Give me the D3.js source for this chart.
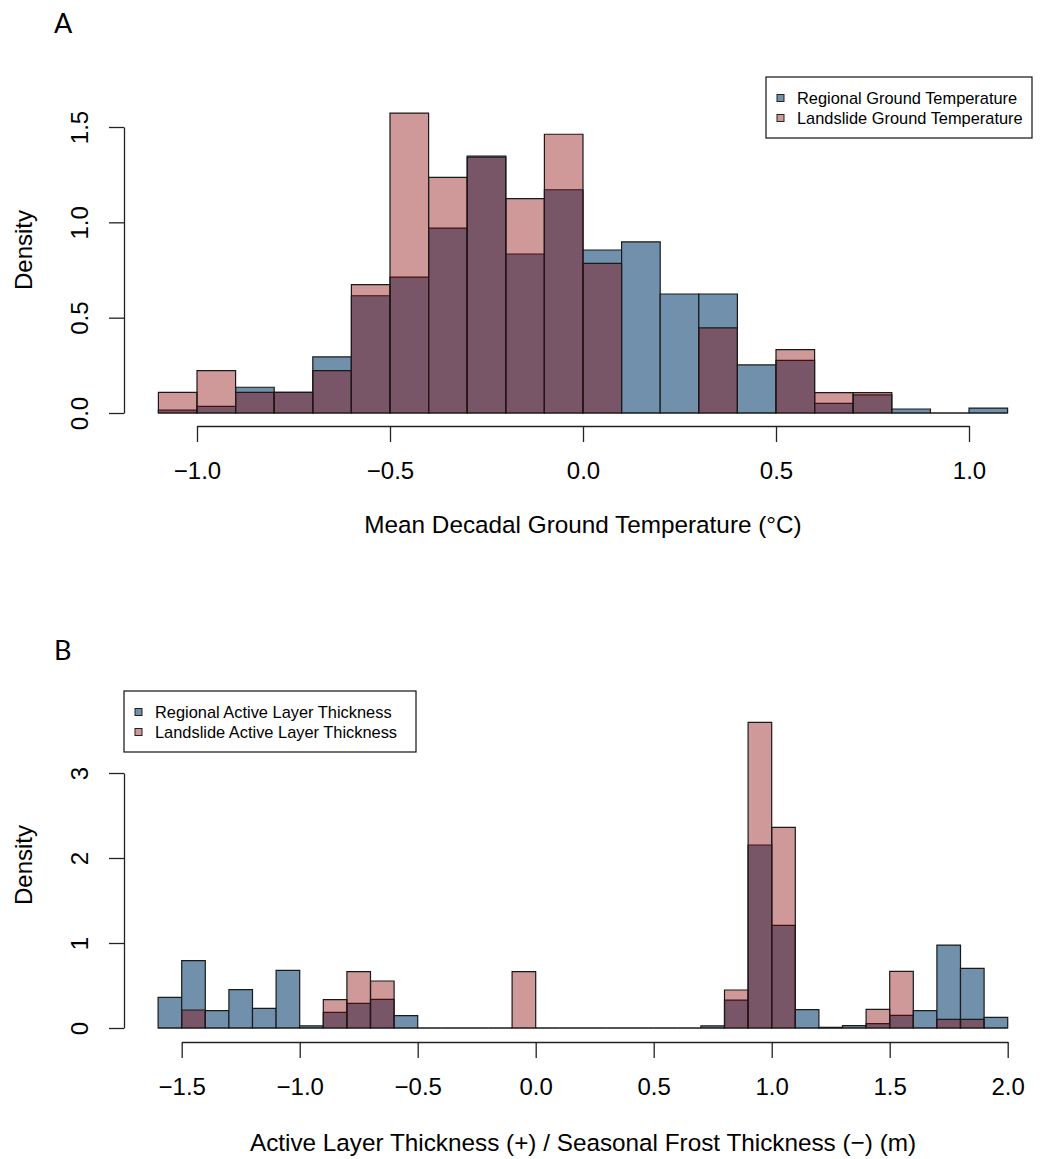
<!DOCTYPE html>
<html>
<head>
<meta charset="utf-8">
<script src="https://cdn.jsdelivr.net/npm/d3@7"></script>
<style>
  html, body { margin: 0; padding: 0; background: #fff; }
  svg { display: block; font-family: "Liberation Sans", Arial, sans-serif; }
</style>
</head>
<body>
<svg id="chart" width="1040" height="1159"></svg>
<script>
// ---------- Panel A data (Mean decadal ground temperature, bins of 0.1 °C) ----------
const breaksA = [-1.1,-1.0,-0.9,-0.8,-0.7,-0.6,-0.5,-0.4,-0.3,-0.2,-0.1,0.0,0.1,0.2,0.3,0.4,0.5,0.6,0.7,0.8,0.9,1.0,1.1];
const regionalA  = [0.015,0.035,0.135,0.108,0.294,0.615,0.713,0.970,1.348,0.834,1.171,0.855,0.898,0.624,0.624,0.252,0.276,0.051,0.095,0.021,0.000,0.026];
const landslideA = [0.108,0.222,0.108,0.108,0.222,0.673,1.573,1.236,1.342,1.124,1.462,0.785,0.000,0.000,0.446,0.000,0.332,0.107,0.107,0.000,0.000,0.000];
const xTicksA = [-1.0,-0.5,0.0,0.5,1.0];
const yTicksA = [0.0,0.5,1.0,1.5];

// ---------- Panel B data (Active layer / seasonal frost thickness, bins of 0.1 m) ----------
const breaksB = [-1.6,-1.5,-1.4,-1.3,-1.2,-1.1,-1.0,-0.9,-0.8,-0.7,-0.6,-0.5,-0.4,-0.3,-0.2,-0.1,0.0,0.1,0.2,0.3,0.4,0.5,0.6,0.7,0.8,0.9,1.0,1.1,1.2,1.3,1.4,1.5,1.6,1.7,1.8,1.9,2.0];
const regionalB  = [0.361,0.792,0.204,0.451,0.231,0.678,0.024,0.184,0.290,0.337,0.145,0,0,0,0,0,0,0,0,0,0,0,0,0.024,0.329,2.153,1.208,0.216,0.008,0.027,0.051,0.149,0.204,0.976,0.702,0.125];
const landslideB = [0,0.212,0,0,0,0,0,0.333,0.663,0.553,0,0,0,0,0,0.663,0,0,0,0,0,0,0,0,0.447,3.596,2.361,0,0,0,0.220,0.667,0,0.102,0.102,0];
const xTicksB = [-1.5,-1.0,-0.5,0.0,0.5,1.0,1.5,2.0];
const yTicksB = [0,1,2,3];

const labelsA = ["Regional Ground Temperature", "Landslide Ground Temperature"];
const labelsB = ["Regional Active Layer Thickness", "Landslide Active Layer Thickness"];

const BLUE = "#7090ac";
const PINK = "rgba(135,0,0,0.4)";
const STROKE = "#1a1a1a";
const TICK_FS = 24;
const LAB_FS = 24.3;

const svg = d3.select("#chart");
svg.append("rect").attr("width",1040).attr("height",1159).attr("fill","#fff");

function panel(cfg) {
  const g = svg.append("g");
  const x = d3.scaleLinear().domain(cfg.xDomain).range(cfg.xRange);
  const y = d3.scaleLinear().domain(cfg.yDomain).range(cfg.yRange);

  const bins = (vals) => vals.map((v,i) => ({x0: cfg.breaks[i], x1: cfg.breaks[i+1], v}));

  // regional (blue) first, then landslide (translucent red) on top; paths so zero bins still draw a line
  [[cfg.regional, BLUE], [cfg.landslide, PINK]].forEach(([vals, fill]) => {
    g.append("g").selectAll("path").data(bins(vals)).join("path")
      .attr("d", d => {
        const xa = x(d.x0), xb = x(d.x1), y0 = y(0), y1 = y(d.v);
        return `M${xa},${y0}V${y1}H${xb}V${y0}Z`;
      })
      .attr("fill", fill)
      .attr("stroke", STROKE)
      .attr("stroke-width", 1.2);
  });

  // x axis
  const xa = g.append("g").attr("transform", `translate(0,${cfg.xAxisY})`)
    .call(d3.axisBottom(x).tickValues(cfg.xTicks).tickFormat(d3.format(".1f"))
      .tickSize(16).tickSizeOuter(0).tickPadding(20));
  xa.select(".domain").attr("stroke","#222").attr("stroke-width",1.3);
  xa.selectAll(".tick line").attr("stroke","#222").attr("stroke-width",1.3);
  xa.selectAll(".tick text").attr("font-size",TICK_FS).attr("fill","#000")
    .attr("font-family","Liberation Sans, Arial, sans-serif");

  // y axis
  const ya = g.append("g").attr("transform", `translate(${cfg.yAxisX},0)`)
    .call(d3.axisLeft(y).tickValues(cfg.yTicks).tickFormat(cfg.yFormat)
      .tickSize(15).tickSizeOuter(0));
  ya.select(".domain").attr("stroke","#222").attr("stroke-width",1.3);
  ya.selectAll(".tick line").attr("stroke","#222").attr("stroke-width",1.3);
  ya.selectAll(".tick text")
    .attr("font-size",TICK_FS).attr("fill","#000")
    .attr("font-family","Liberation Sans, Arial, sans-serif")
    .attr("text-anchor","middle")
    .attr("x",0).attr("y",-36).attr("dy",null)
    .attr("transform","rotate(-90)");

  // axis titles
  g.append("text").attr("x", cfg.xLabelX).attr("y", cfg.xLabelY)
    .attr("text-anchor","middle").attr("font-size",LAB_FS).text(cfg.xLabel);
  g.append("text").attr("transform", `translate(32,${cfg.yLabelY}) rotate(-90)`)
    .attr("text-anchor","middle").attr("font-size",TICK_FS).text("Density");

  // panel letter
  g.append("text").attr("x",54).attr("y",cfg.letterY)
    .attr("font-family","Lato, 'Open Sans', sans-serif").attr("font-size",27)
    .text(cfg.letter);

  // legend
  const lg = g.append("g");
  lg.append("rect").attr("x",cfg.leg.x).attr("y",cfg.leg.y)
    .attr("width",cfg.leg.w).attr("height",cfg.leg.h)
    .attr("fill","#fff").attr("stroke","#111").attr("stroke-width",1.2);
  cfg.labels.forEach((lab,i) => {
    const cy = cfg.leg.y + 21 + i*20;
    lg.append("rect").attr("x",cfg.leg.x+11).attr("y",cy-3.5).attr("width",7).attr("height",7)
      .attr("fill", i===0 ? BLUE : "#cf9899").attr("stroke","#222").attr("stroke-width",1);
    lg.append("text").attr("x",cfg.leg.x+31).attr("y",cy+5.5)
      .attr("font-size",16.4).text(lab);
  });
}

panel({
  breaks: breaksA, regional: regionalA, landslide: landslideA,
  xDomain: [-1,1], xRange: [197,969],
  yDomain: [0,1.5], yRange: [413,127],
  xTicks: xTicksA, yTicks: yTicksA, yFormat: d3.format(".1f"),
  xAxisY: 426, yAxisX: 124,
  xLabel: "Mean Decadal Ground Temperature (°C)", xLabelX: 583, xLabelY: 533,
  yLabelY: 250, letter: "A", letterY: 33,
  labels: labelsA, leg: {x:766, y:77, w:266, h:61}
});

panel({
  breaks: breaksB, regional: regionalB, landslide: landslideB,
  xDomain: [-1.5,2.0], xRange: [181.7,1007.7],
  yDomain: [0,3], yRange: [1028,773],
  xTicks: xTicksB, yTicks: yTicksB, yFormat: d3.format("d"),
  xAxisY: 1042, yAxisX: 124,
  xLabel: "Active Layer Thickness (+) / Seasonal Frost Thickness (\u2212) (m)", xLabelX: 583, xLabelY: 1151,
  yLabelY: 865, letter: "B", letterY: 660,
  labels: labelsB, leg: {x:124, y:691, w:292, h:61}
});
</script>
</body>
</html>
